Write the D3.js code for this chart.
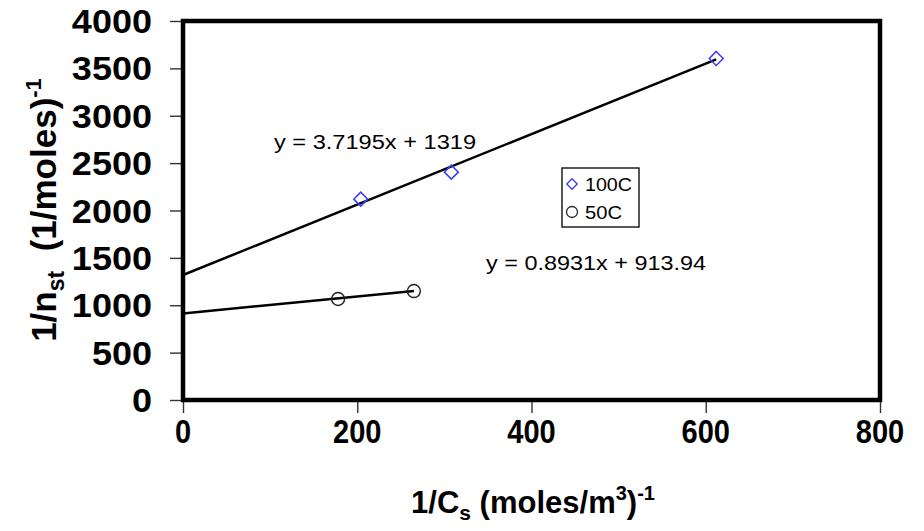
<!DOCTYPE html>
<html>
<head>
<meta charset="utf-8">
<script src="https://d3js.org/d3.v7.min.js"></script>
<style>
  body { margin: 0; background: #fff; }
  text { font-family: Arial, "Liberation Sans", sans-serif; }
</style>
</head>
<body>
<svg id="chart" width="924" height="531"></svg>
<script>
// data
const hot = { name: "100C", x: [204, 308, 612], y: [2120, 2405, 3605] };
const cold = { name: "50C", x: [178, 265], y: [1066, 1150] };
const fits = [
  { slope: 3.7195, icpt: 1319, xEnd: 612, label: "y = 3.7195x + 1319" },
  { slope: 0.8931, icpt: 913.94, xEnd: 265, label: "y = 0.8931x + 913.94" }
];
const xTicks = [0, 200, 400, 600, 800];
const yTicks = [0, 500, 1000, 1500, 2000, 2500, 3000, 3500, 4000];

const svg = d3.select("#chart");
const plotL = 183, plotR = 880, plotT = 21, plotB = 400;

const x = d3.scaleLinear().domain([0, 800]).range([plotL, plotR]);
const y = d3.scaleLinear().domain([0, 4000]).range([plotB, plotT]);

// tick marks
svg.append("g")
  .attr("transform", `translate(0,${plotB})`)
  .call(d3.axisBottom(x).tickValues(xTicks).tickSize(13).tickFormat(""))
  .call(g => g.select(".domain").remove())
  .selectAll("line").attr("stroke", "#333").attr("stroke-width", 1.4);
svg.append("g")
  .attr("transform", `translate(${plotL},0)`)
  .call(d3.axisLeft(y).tickValues(yTicks).tickSize(13).tickFormat(""))
  .call(g => g.select(".domain").remove())
  .selectAll("line").attr("stroke", "#333").attr("stroke-width", 1.4);

// tick labels
svg.append("g").selectAll("text").data(yTicks).join("text")
  .attr("transform", d => `translate(152,${y(d) + 12}) scale(1.06,1)`)
  .attr("text-anchor", "end")
  .attr("font-size", 34).attr("font-weight", "bold")
  .text(d => d);
svg.append("g").selectAll("text").data(xTicks).join("text")
  .attr("transform", d => `translate(${x(d)},443) scale(0.88,1)`)
  .attr("text-anchor", "middle")
  .attr("font-size", 33).attr("font-weight", "bold")
  .text(d => d);

// frame
svg.append("rect")
  .attr("x", plotL).attr("y", plotT)
  .attr("width", plotR - plotL).attr("height", plotB - plotT)
  .attr("fill", "none").attr("stroke", "#000").attr("stroke-width", 4.5);

// trend lines
const line = d3.line().x(d => x(d[0])).y(d => y(d[1]));
svg.append("g").selectAll("path").data(fits).join("path")
  .attr("d", f => line([[0, f.icpt], [f.xEnd, f.icpt + f.slope * f.xEnd]]))
  .attr("fill", "none").attr("stroke", "#000").attr("stroke-width", 2.5);

// markers
const diamond = d3.symbol().type(d3.symbolDiamond2).size(125);
svg.append("g").selectAll("path").data(d3.zip(hot.x, hot.y)).join("path")
  .attr("transform", d => `translate(${x(d[0])},${y(d[1])})`)
  .attr("d", diamond)
  .attr("fill", "none").attr("stroke", "#3b3bff").attr("stroke-width", 1.5);
svg.append("g").selectAll("circle").data(d3.zip(cold.x, cold.y)).join("circle")
  .attr("cx", d => x(d[0])).attr("cy", d => y(d[1])).attr("r", 6.5)
  .attr("fill", "none").attr("stroke", "#222").attr("stroke-width", 1.4);

// equations
svg.append("text").attr("x", 274).attr("y", 149)
  .attr("font-size", 20).attr("textLength", 202).attr("lengthAdjust", "spacingAndGlyphs")
  .text(fits[0].label);
svg.append("text").attr("x", 486).attr("y", 270)
  .attr("font-size", 20).attr("textLength", 220).attr("lengthAdjust", "spacingAndGlyphs")
  .text(fits[1].label);

// legend
const lg = svg.append("g").attr("transform", "translate(562,168)");
lg.append("rect").attr("x", 0).attr("y", 0).attr("width", 77).attr("height", 59)
  .attr("fill", "#fff").attr("stroke", "#111").attr("stroke-width", 1.4);
lg.append("path").attr("transform", "translate(10,16)")
  .attr("d", d3.symbol().type(d3.symbolDiamond2).size(70))
  .attr("fill", "none").attr("stroke", "#3b3bff").attr("stroke-width", 1.3);
lg.append("circle").attr("cx", 10).attr("cy", 44).attr("r", 5.5)
  .attr("fill", "none").attr("stroke", "#222").attr("stroke-width", 1.3);
lg.append("text").attr("x", 23).attr("y", 23).attr("font-size", 18)
  .attr("textLength", 47).attr("lengthAdjust", "spacingAndGlyphs").text(hot.name);
lg.append("text").attr("x", 23).attr("y", 51).attr("font-size", 18)
  .attr("textLength", 37).attr("lengthAdjust", "spacingAndGlyphs").text(cold.name);

// axis titles
const xt = svg.append("text").attr("x", 533).attr("y", 513)
  .attr("text-anchor", "middle").attr("font-size", 31).attr("font-weight", "bold");
xt.append("tspan").text("1/C");
xt.append("tspan").attr("font-size", 21).attr("dy", 7).text("s");
xt.append("tspan").attr("dy", -7).text(" (moles/m");
xt.append("tspan").attr("font-size", 20).attr("dy", -13).text("3");
xt.append("tspan").attr("dy", 13).text(")");
xt.append("tspan").attr("font-size", 20).attr("dy", -13).text("-1");

const yt = svg.append("text").attr("transform", "translate(56,210) rotate(-90)")
  .attr("text-anchor", "middle").attr("font-size", 35).attr("font-weight", "bold");
yt.append("tspan").text("1/n");
yt.append("tspan").attr("font-size", 23).attr("dy", 8).text("st");
yt.append("tspan").attr("dy", -8).attr("xml:space", "preserve").text("  (1/moles)");
yt.append("tspan").attr("font-size", 22).attr("dy", -15).text("-1");
</script>
</body>
</html>
